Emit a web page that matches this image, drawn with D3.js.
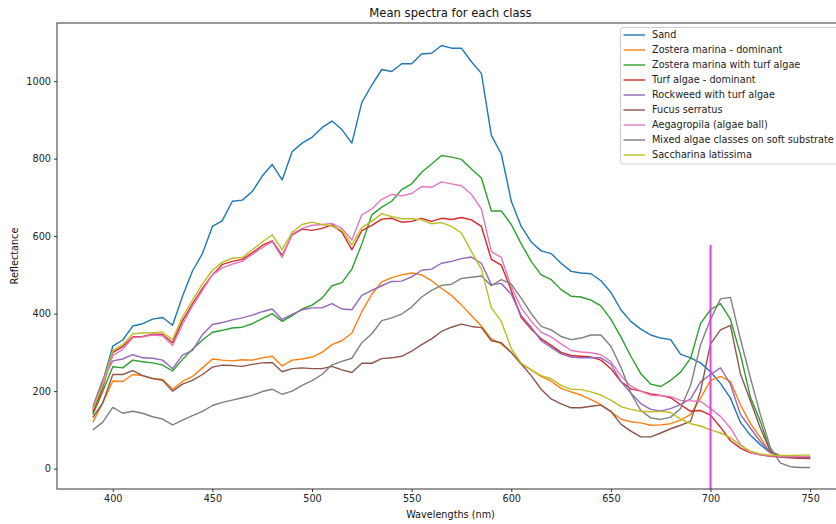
<!DOCTYPE html>
<html>
<head>
<meta charset="utf-8">
<script src="https://cdn.jsdelivr.net/npm/d3@7"></script>
<style>
  html, body { margin: 0; padding: 0; background: #fff; overflow: hidden; }
  svg { display: block; font-family: "DejaVu Sans", sans-serif; }
</style>
</head>
<body>
<svg id="chart" width="836" height="524"></svg>
<script>
// Band centres (nm)
const wavelengths = [390,395,400,405,410,415,420,425,430,435,440,445,450,455,460,465,470,475,480,485,
  490,495,500,505,510,515,520,525,530,535,540,545,550,555,560,565,570,575,580,585,
  590,595,600,605,610,615,620,625,630,635,640,645,650,655,660,665,670,675,680,685,
  690,695,700,705,710,715,720,725,730,735,740,745,750];

const classNames = ["Sand", "Zostera marina - dominant", "Zostera marina with turf algae",
  "Turf algae - dominant", "Rockweed with turf algae", "Fucus serratus",
  "Aegagropila (algae ball)", "Mixed algae classes on soft substrate", "Saccharina latissima"];

const colors = ["#1f77b4","#ff7f0e","#2ca02c","#d62728","#9467bd","#8c564b","#e377c2","#7f7f7f","#bcbd22"];

// Mean reflectance per class, one value per band
const sand = [150,225,316,332,368,374,386,390,370,445,510,555,625,640,690,693,715,755,785,745,
  818,840,855,880,897,875,840,945,990,1030,1025,1045,1045,1070,1072,1092,1085,1085,1050,1020,
  860,812,690,625,585,562,555,530,509,505,503,485,455,410,380,360,345,337,333,295,
  286,273,250,220,182,120,86,62,41,32,30,29,28];

const zosteraDominant = [120,170,226,225,243,240,232,230,205,225,238,260,283,280,278,281,280,286,290,265,
  280,283,288,300,320,330,350,405,450,482,493,500,505,500,485,465,447,422,395,368,
  335,322,300,270,255,238,226,207,198,190,178,165,147,128,121,118,112,113,116,125,
  140,182,228,238,225,165,117,80,40,32,31,31,31];

const zosteraTurf = [140,200,263,260,280,276,273,267,252,282,308,332,352,357,363,365,374,387,400,380,
  395,412,422,440,472,480,515,580,655,675,690,720,735,765,786,808,804,798,773,750,
  665,665,630,580,535,500,488,462,445,443,435,420,385,340,290,245,218,212,228,249,
  285,375,410,426,385,295,185,122,45,33,31,31,31];

const turfDominant = [145,210,300,315,340,341,347,346,325,382,425,465,500,527,535,540,557,576,588,550,
  603,618,615,620,629,610,565,614,628,644,646,636,638,646,638,646,643,648,642,625,
  540,525,460,390,360,335,318,300,292,290,288,280,258,225,206,200,193,189,183,165,
  148,150,138,107,72,53,41,36,32,30,28,27,26];

const rockweedTurf = [160,230,278,283,294,286,285,280,258,293,305,346,372,377,384,389,396,405,412,385,
  398,410,415,415,426,412,410,447,460,472,483,484,495,512,515,530,535,542,546,530,
  475,478,450,395,365,330,313,296,288,286,287,286,270,225,195,168,153,149,155,166,
  180,224,243,260,218,140,105,70,43,32,30,29,28];

const fucusSerratus = [132,170,243,243,253,240,233,228,200,218,228,243,262,267,266,264,269,273,274,250,
  258,260,258,258,264,255,248,272,272,284,286,290,303,320,335,354,365,373,367,364,
  330,325,300,270,240,205,180,167,157,157,161,164,148,115,97,82,82,92,103,112,
  122,200,322,358,370,245,175,105,45,31,29,28,28];

const aegagropila = [155,215,292,308,338,340,345,343,318,372,420,460,500,518,528,535,553,570,586,545,
  605,620,628,630,633,620,590,655,670,695,708,704,710,728,726,740,735,730,708,670,
  560,545,470,415,380,352,340,322,305,301,299,294,276,240,213,200,189,188,186,176,
  175,174,155,135,105,62,41,36,33,32,31,31,31];

const mixedAlgae = [100,120,158,143,148,143,134,128,113,125,137,148,163,171,177,183,189,199,205,192,
  200,215,227,243,268,277,285,325,348,382,389,399,417,443,460,473,476,491,494,497,
  472,488,476,440,400,367,358,341,333,337,345,345,316,262,195,150,131,127,133,155,
  215,320,385,438,442,335,235,140,55,15,5,3,3];

const saccharina = [152,220,305,320,348,350,351,352,333,392,435,477,512,533,543,545,565,585,603,565,
  610,630,636,630,626,615,578,622,638,658,650,645,645,642,632,635,625,608,560,515,
  415,380,310,272,255,240,232,215,205,204,198,190,177,160,153,148,147,148,145,128,
  116,110,100,92,80,60,45,38,35,34,34,35,35];

const seriesValues = [sand, zosteraDominant, zosteraTurf, turfDominant, rockweedTurf,
  fucusSerratus, aegagropila, mixedAlgae, saccharina];

// Marker for the 700 nm band
const markerWavelength = 700;
const markerTop = 577;

const xTicks = [400,450,500,550,600,650,700,750];
const yTicks = [0,200,400,600,800,1000];

const svg = d3.select("#chart");
const plotLeft = 57, plotRight = 846, plotTop = 23, plotBottom = 489;
const fontSize = 9.7;

const x = d3.scaleLinear().domain([372, 768]).range([plotLeft, plotRight]);
const y = d3.scaleLinear().domain([-52.5, 1150]).range([plotBottom, plotTop]);

svg.append("defs").append("clipPath").attr("id", "plotClip")
  .append("rect").attr("x", plotLeft).attr("y", plotTop)
  .attr("width", plotRight - plotLeft).attr("height", plotBottom - plotTop);

const plot = svg.append("g").attr("clip-path", "url(#plotClip)");

const line = d3.line()
  .x((d, i) => x(wavelengths[i]))
  .y(d => y(d));

seriesValues.forEach((vals, k) => {
  plot.append("path")
    .datum(vals)
    .attr("fill", "none")
    .attr("stroke", colors[k])
    .attr("stroke-width", 1.4)
    .attr("stroke-linejoin", "round")
    .attr("d", line);
});

// vertical marker
plot.append("line")
  .attr("x1", x(markerWavelength)).attr("x2", x(markerWavelength))
  .attr("y1", y(markerTop)).attr("y2", plotBottom)
  .attr("stroke", "#e83ee3")
  .attr("stroke-width", 2);

// axes
const xAxis = d3.axisBottom(x).tickValues(xTicks).tickFormat(d3.format("d")).tickSize(3).tickPadding(3);
const yAxis = d3.axisLeft(y).tickValues(yTicks).tickFormat(d3.format("d")).tickSize(3).tickPadding(3);

const gx = svg.append("g").attr("transform", `translate(0,${plotBottom})`).call(xAxis);
const gy = svg.append("g").attr("transform", `translate(${plotLeft},0)`).call(yAxis);
[gx, gy].forEach(g => {
  g.select(".domain").remove();
  g.selectAll("line").attr("stroke", "#333");
  g.selectAll("text").attr("font-size", fontSize).attr("fill", "#222").attr("font-family", "DejaVu Sans");
});

// frame
svg.append("rect")
  .attr("x", plotLeft).attr("y", plotTop)
  .attr("width", plotRight - plotLeft).attr("height", plotBottom - plotTop)
  .attr("fill", "none").attr("stroke", "#333").attr("stroke-width", 1);

// labels
svg.append("text").attr("x", (plotLeft + plotRight) / 2 - 1).attr("y", 16.5)
  .attr("text-anchor", "middle").attr("font-size", 11.6).attr("fill", "#111")
  .text("Mean spectra for each class");
svg.append("text").attr("x", (plotLeft + plotRight) / 2 - 1).attr("y", 518)
  .attr("text-anchor", "middle").attr("font-size", fontSize).attr("fill", "#111")
  .text("Wavelengths (nm)");
svg.append("text")
  .attr("transform", `translate(18,${(plotTop + plotBottom) / 2}) rotate(-90)`)
  .attr("text-anchor", "middle").attr("font-size", fontSize).attr("fill", "#111")
  .text("Reflectance");

// legend
const lg = svg.append("g");
lg.append("rect")
  .attr("x", 620.5).attr("y", 27.5).attr("width", 240).attr("height", 136.5).attr("rx", 2.5)
  .attr("fill", "#fff").attr("fill-opacity", 0.8).attr("stroke", "#cccccc").attr("stroke-width", 1);
classNames.forEach((name, k) => {
  const yy = 35 + k * 15;
  lg.append("line").attr("x1", 623.5).attr("x2", 645).attr("y1", yy).attr("y2", yy)
    .attr("stroke", colors[k]).attr("stroke-width", 1.4);
  lg.append("text").attr("x", 652).attr("y", yy).attr("dy", "0.35em")
    .attr("font-size", fontSize).attr("fill", "#222").text(name);
});
</script>
</body>
</html>
